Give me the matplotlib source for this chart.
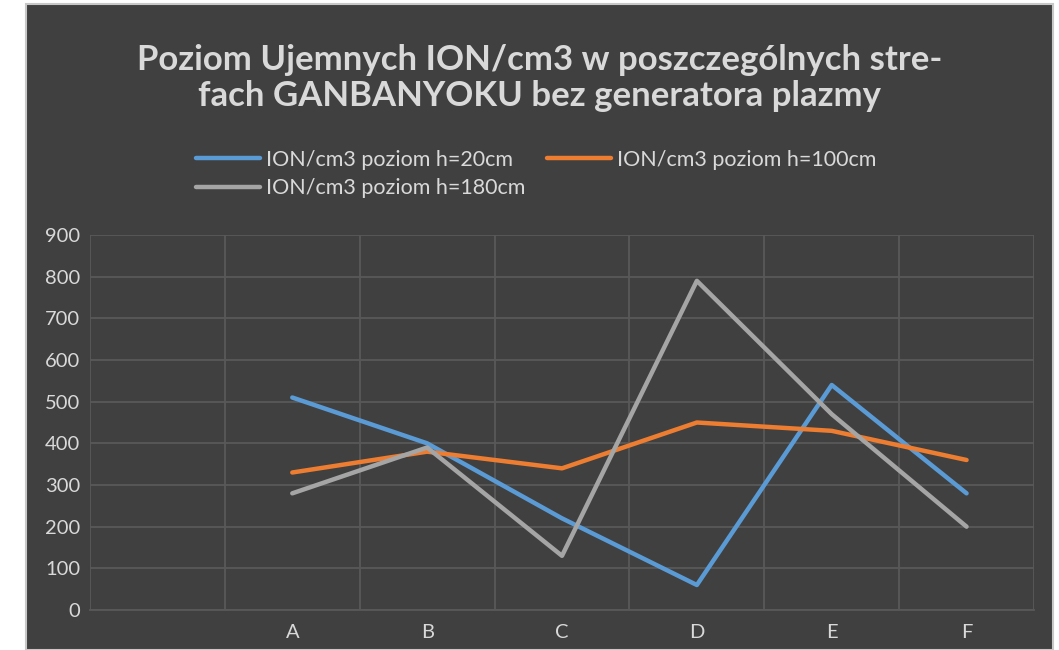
'''Negative ion levels per zone, without plasma generator.'''
from matplotlib import pyplot as plt
from matplotlib.patches import Rectangle

categories = ['', 'A', 'B', 'C', 'D', 'E', 'F']
zones = categories[1:]
h20 = [510, 400, 220, 60, 540, 280]
h100 = [330, 380, 340, 450, 430, 360]
h180 = [280, 390, 130, 790, 470, 200]
labels = ['ION/cm3 poziom h=20cm', 'ION/cm3 poziom h=100cm', 'ION/cm3 poziom h=180cm']
colors = ['#5B9BD5', '#ED7D31', '#A5A5A5']

BG = '#404040'
GRID = '#595959'
TEXT = '#D9D9D9'

plt.rcParams['font.family'] = ['Lato', 'DejaVu Sans']

fig = plt.figure(figsize=(10.59, 6.5), dpi=100, facecolor='white')
fig.patches.append(Rectangle((26 / 1059, 0), (1053 - 26) / 1059, 1 - 4 / 650,
                             transform=fig.transFigure, facecolor=BG,
                             edgecolor='#C8C8C8', linewidth=1.5, zorder=-10))

ax = fig.add_axes([90 / 1059, 1 - 610 / 650, (1034 - 90) / 1059, (610 - 235) / 650])
ax.set_facecolor(BG)

x_pos = range(1, len(categories))
lines = []
for values, label, color in zip([h20, h100, h180], labels, colors):
    line, = ax.plot(x_pos, values, color=color, linewidth=3.2, label=label,
                    solid_joinstyle='round', solid_capstyle='round', zorder=3)
    lines.append(line)

# Axis limits and grid
ax.set_xlim(-0.5, len(categories) - 0.5)
ax.set_ylim(0, 900)
ax.set_yticks(range(0, 901, 100))
ax.set_xticks(range(len(categories)))
ax.set_xticklabels(categories)
ax.set_xticks([i - 0.5 for i in range(len(categories) + 1)], minor=True)
ax.grid(True, which='major', axis='y', color=GRID, linewidth=1.3)
ax.grid(True, which='minor', axis='x', color=GRID, linewidth=1.3)
ax.tick_params(which='both', length=0, colors=TEXT, labelsize=14.5)
ax.tick_params(axis='x', pad=10)
ax.tick_params(axis='y', pad=7)
for side in ['top', 'right', 'left']:
    ax.spines[side].set_visible(False)
ax.spines['bottom'].set_color(GRID)
ax.spines['bottom'].set_linewidth(1.3)

# Title
fig.text(540 / 1059, 1 - 78 / 650,
         'Poziom Ujemnych ION/cm3 w poszczególnych stre-\nfach GANBANYOKU bez generatora plazmy',
         ha='center', va='center', fontsize=25, fontweight='bold', color=TEXT,
         linespacing=1.13)

# Legend: order handles so rows read blue, orange / gray
leg = fig.legend([lines[0], lines[2], lines[1]], [labels[0], labels[2], labels[1]],
                 ncol=2, loc='center', bbox_to_anchor=(536 / 1059, 1 - 174 / 650),
                 frameon=False, fontsize=15.5, handlelength=3.0, columnspacing=1.0,
                 labelspacing=0.4, handletextpad=0.25)
for text in leg.get_texts():
    text.set_color(TEXT)

fig.savefig('out.png', dpi=100, facecolor='white')
